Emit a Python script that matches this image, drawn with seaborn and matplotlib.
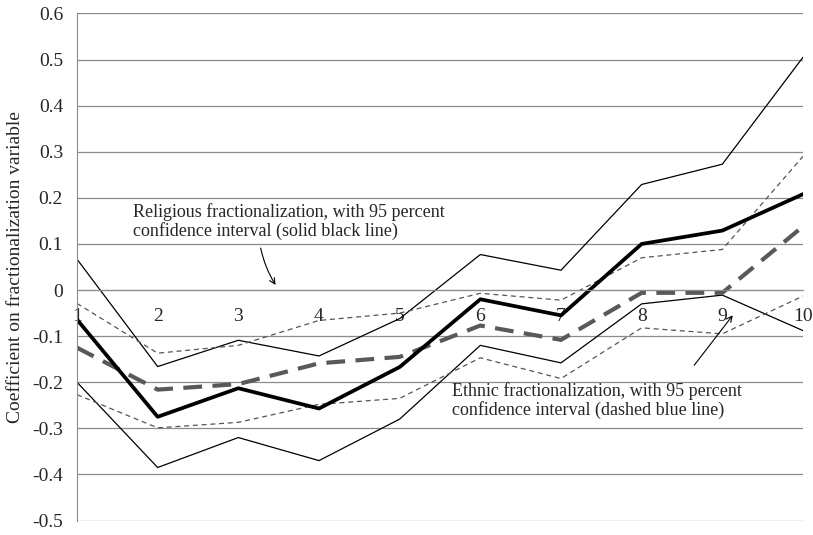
import matplotlib
matplotlib.use("Agg")
from matplotlib import pyplot as plt
import seaborn as sns
import pandas as pd

# Obdobi na ose x
obdobi = [1, 2, 3, 4, 5, 6, 7, 8, 9, 10]

# Nabozenska fragmentace (odhad a 95% interval)
rel_odhad = [-0.064, -0.275, -0.213, -0.257, -0.167, -0.020, -0.055, 0.100, 0.129, 0.208]
rel_dolni = [-0.200, -0.385, -0.320, -0.370, -0.280, -0.120, -0.158, -0.030, -0.011, -0.088]
rel_horni = [0.067, -0.166, -0.109, -0.143, -0.062, 0.077, 0.043, 0.229, 0.273, 0.505]

# Etnicka fragmentace (odhad a 95% interval)
eth_odhad = [-0.125, -0.216, -0.204, -0.159, -0.145, -0.077, -0.108, -0.006, -0.006, 0.138]
eth_dolni = [-0.227, -0.299, -0.287, -0.248, -0.235, -0.147, -0.192, -0.082, -0.095, -0.013]
eth_horni = [-0.029, -0.137, -0.120, -0.066, -0.050, -0.007, -0.022, 0.070, 0.088, 0.290]

y_ticks = [0.6, 0.5, 0.4, 0.3, 0.2, 0.1, 0, -0.1, -0.2, -0.3, -0.4, -0.5]
y_popisky = ["0.6", "0.5", "0.4", "0.3", "0.2", "0.1", "0", "-0.1", "-0.2", "-0.3", "-0.4", "-0.5"]

df = pd.DataFrame({"obdobi": obdobi,
                   "rel_odhad": rel_odhad, "rel_dolni": rel_dolni, "rel_horni": rel_horni,
                   "eth_odhad": eth_odhad, "eth_dolni": eth_dolni, "eth_horni": eth_horni})

sns.set_style("white")
plt.rcParams["font.family"] = ["Liberation Serif", "DejaVu Serif"]

fig, ax = plt.subplots(1, 1, figsize=(8.13, 5.35), dpi=100)
fig.subplots_adjust(left=0.0947, right=0.9877, top=0.9757, bottom=0.0262)

sedi = "#8c8c8c"

# Intervaly spolehlivosti
sns.lineplot(data=df, x="obdobi", y="rel_horni", ax=ax, color="black", lw=0.9)
sns.lineplot(data=df, x="obdobi", y="rel_dolni", ax=ax, color="black", lw=0.9)
sns.lineplot(data=df, x="obdobi", y="eth_horni", ax=ax, color="#555555", lw=0.9,
             linestyle=(0, (4, 3)))
sns.lineplot(data=df, x="obdobi", y="eth_dolni", ax=ax, color="#555555", lw=0.9,
             linestyle=(0, (4, 3)))
# Bodove odhady
sns.lineplot(data=df, x="obdobi", y="eth_odhad", ax=ax, color="#595959", lw=3.0,
             linestyle=(0, (4.5, 2.5)))
sns.lineplot(data=df, x="obdobi", y="rel_odhad", ax=ax, color="black", lw=2.7)

# Osa x vede nulou
for strana in ["top", "right"]:
    ax.spines[strana].set_visible(False)
ax.spines["left"].set_color(sedi)
ax.spines["bottom"].set_color(sedi)
ax.spines["bottom"].set_position(("data", 0))

ax.set_xlim(1, 10)
ax.set_ylim(-0.501, 0.601)
ax.set_yticks(y_ticks)
ax.set_yticklabels(y_popisky)
ax.set_xticks(obdobi)
ax.set_xticklabels([str(o) for o in obdobi])
ax.yaxis.grid(True, color=sedi, lw=0.9)
ax.set_axisbelow(True)
ax.tick_params(axis="y", direction="out", length=6, color=sedi, pad=4, labelsize=14)
ax.tick_params(axis="x", direction="out", length=5, color=sedi, pad=8, labelsize=14)

ax.set_xlabel("")
ax.set_ylabel("Coefficient on fractionalization variable", fontsize=14, labelpad=6)

# Popisky se sipkami
ax.text(1.69, 0.148, "Religious fractionalization, with 95 percent\nconfidence interval (solid black line)",
        fontsize=13, va="center", ha="left", linespacing=1.1)
ax.annotate("", xy=(3.48, 0.006), xytext=(3.27, 0.097),
            arrowprops=dict(arrowstyle="->", color="black", lw=0.8,
                            connectionstyle="arc3,rad=0.1"))
ax.text(5.65, -0.240, "Ethnic fractionalization, with 95 percent\nconfidence interval (dashed blue line)",
        fontsize=13, va="center", ha="left", linespacing=1.1)
ax.annotate("", xy=(9.15, -0.05), xytext=(8.63, -0.168),
            arrowprops=dict(arrowstyle="->", color="black", lw=0.8))

fig.savefig("out.png", dpi=100)
